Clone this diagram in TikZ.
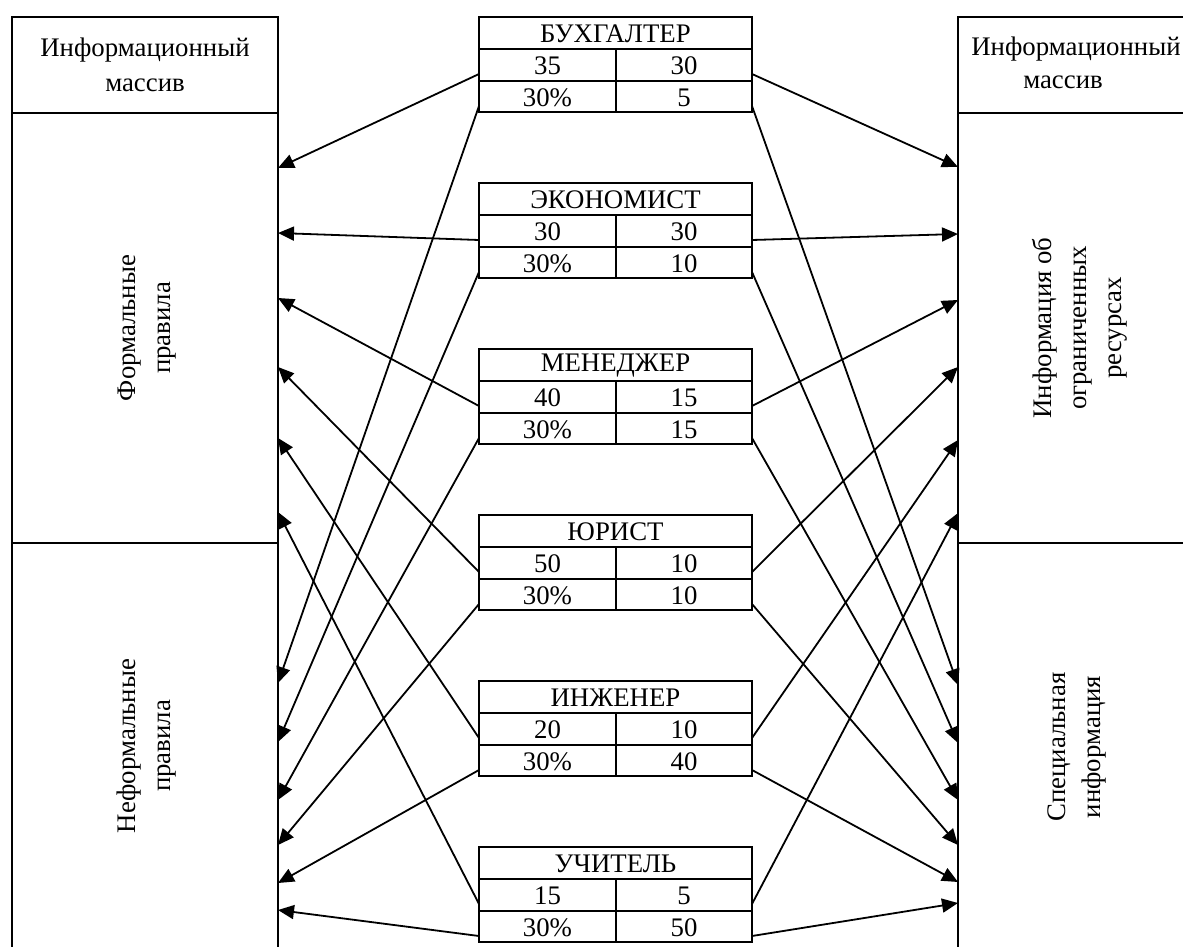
\documentclass[tikz,border=0pt]{standalone}
\usepackage{fontspec}
\setmainfont{Liberation Serif}
\usetikzlibrary{arrows.meta}
\begin{document}
\begin{tikzpicture}[x=0.5pt,y=-0.5pt,
  boxline/.style={line width=1pt},
  conn/.style={line width=0.9pt,-{Triangle[length=8pt,width=7pt]}},
  txt/.style={inner sep=0pt,align=center,font=\fontsize{13.4}{17.5}\selectfont},
  vtxt/.style={txt,rotate=90}]
\useasboundingbox (0,0) rectangle (1183,947);
\clip (0,0) rectangle (1183,947);
% left box
\draw[boxline] (12,960) -- (12,17) -- (278,17) -- (278,960);
\draw[boxline] (12,113) -- (278,113);
\draw[boxline] (12,543) -- (278,543);
% right box
\draw[boxline] (1200,17) -- (958,17) -- (958,960);
\draw[boxline] (958,113) -- (1200,113);
\draw[boxline] (958,543) -- (1200,543);
% texts of side boxes
\node[txt] (ltop) at (145,65) {Информационный\\массив};
\node[txt] (rtop1) at (1076,49) {Информационный};
\node[txt] (rtop2) at (1063,82) {массив};
\node[vtxt] (lform) at (147,328) {Формальные\\правила};
\node[vtxt] (lneform) at (147,746) {Неформальные\\правила};
\node[vtxt] (rres) at (1080,328) {Информация об\\ограниченных\\ресурсах};
\node[vtxt] (rspec) at (1077,747) {Специальная\\информация};
% tables
\foreach \k/\t/\name/\a/\b/\c/\d in {1/17/БУХГАЛТЕР/35/30/30\%/5,
  2/183/ЭКОНОМИСТ/30/30/30\%/10,
  3/349/МЕНЕДЖЕР/40/15/30\%/15,
  4/515/ЮРИСТ/50/10/30\%/10,
  5/681/ИНЖЕНЕР/20/10/30\%/40,
  6/847/УЧИТЕЛЬ/15/5/30\%/50}{
  \draw[boxline] (479,\t) rectangle (752,\t+95);
  \draw[boxline] (479,\t+32) -- (752,\t+32);
  \draw[boxline] (479,\t+64) -- (752,\t+64);
  \draw[boxline] (616,\t+32) -- (616,\t+95);
  \node[txt] (title\k) at (615.5,\t+17) {\name};
  \node[txt] (a\k) at (547.5,\t+49) {\a};
  \node[txt] (b\k) at (684,\t+49) {\b};
  \node[txt] (c\k) at (547.5,\t+80.5) {\c};
  \node[txt] (d\k) at (684,\t+80.5) {\d};
  \coordinate (lu\k) at (479,\t+57);
  \coordinate (ll\k) at (479,\t+89);
  \coordinate (ru\k) at (752,\t+57);
  \coordinate (rl\k) at (752,\t+89);
}
% arrow end points on side boxes
\foreach \k/\lu/\ll/\ru/\rl in {1/168/683/167/685,
  2/233/742/234/743,
  3/298/800/300/800,
  4/367/845/367/845,
  5/438/883/440/882,
  6/512/910/513/903}{
  \coordinate (Lu\k) at (278,\lu);
  \coordinate (Ll\k) at (278,\ll);
  \coordinate (Ru\k) at (958,\ru);
  \coordinate (Rl\k) at (958,\rl);
}
\foreach \k in {1,...,6}{
  \draw[conn] (lu\k) -- (Lu\k);
  \draw[conn] (ll\k) -- (Ll\k);
  \draw[conn] (ru\k) -- (Ru\k);
  \draw[conn] (rl\k) -- (Rl\k);
}
\end{tikzpicture}
\end{document}
